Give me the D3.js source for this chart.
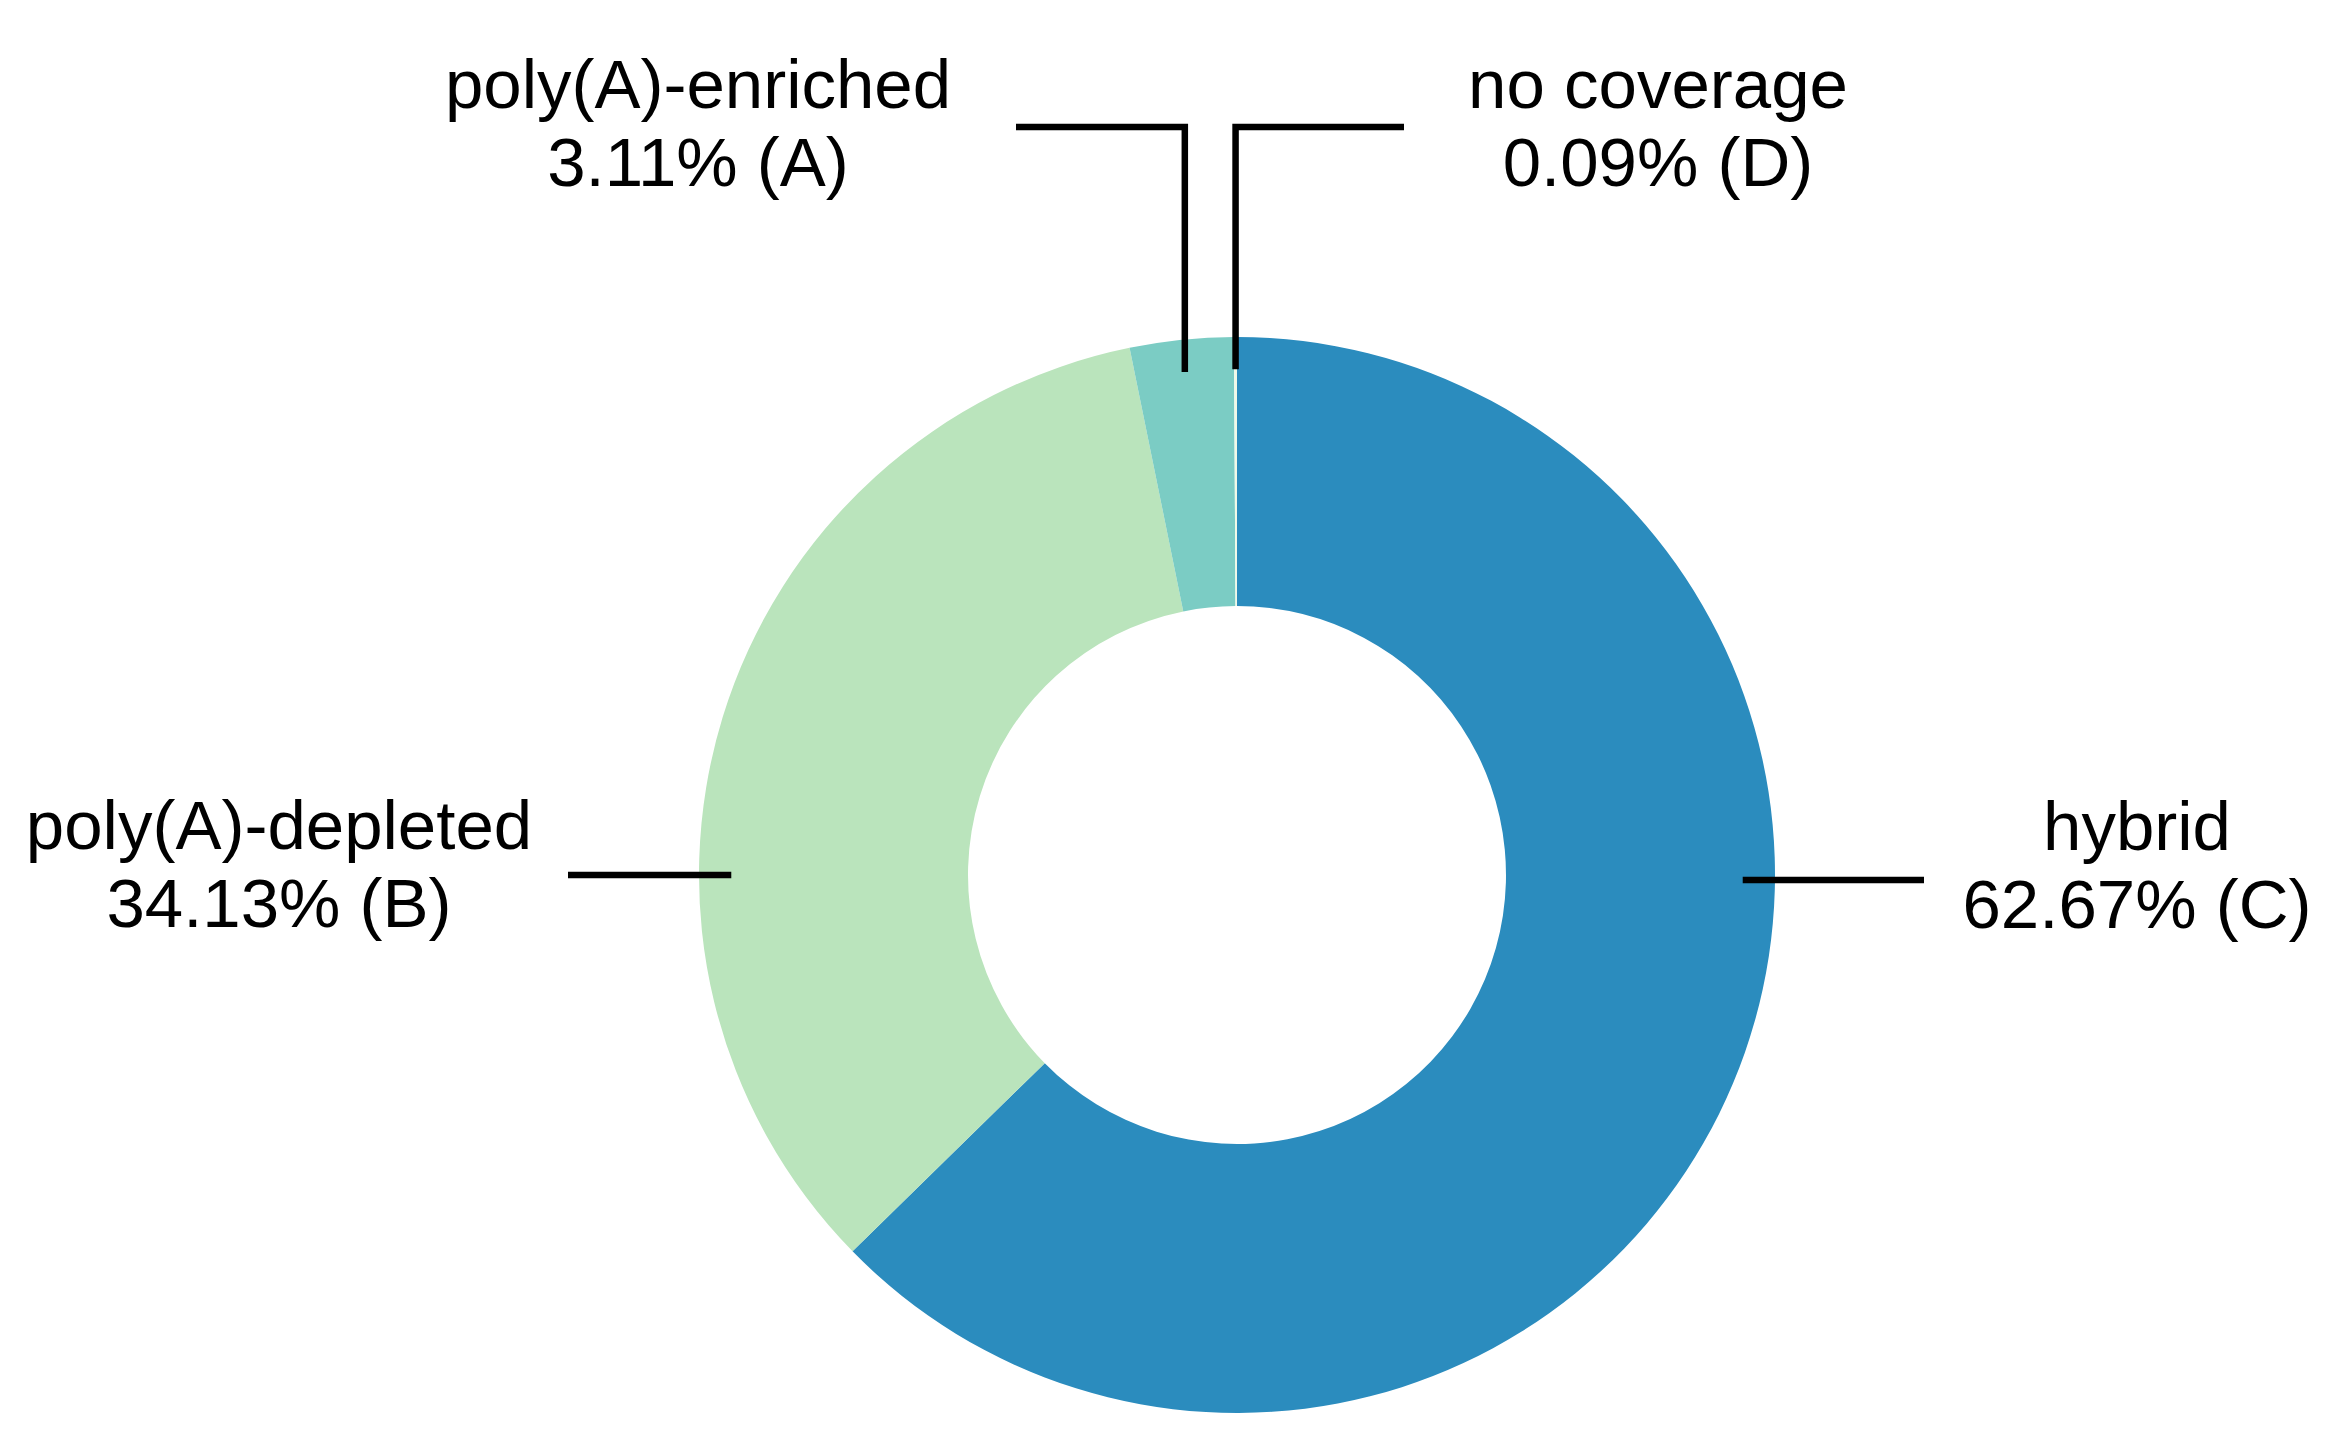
<!DOCTYPE html>
<html>
<head>
<meta charset="utf-8">
<script src="https://cdn.jsdelivr.net/npm/d3@7"></script>
<style>
  body { margin: 0; background: #fff; }
  text { font-family: "Liberation Sans", Arial, sans-serif; fill: #000; }
</style>
</head>
<body>
<div id="chart"></div>
<script>
// slices, clockwise from 12 o'clock
const categories = ["hybrid", "poly(A)-depleted", "poly(A)-enriched", "no coverage"];
const values = [62.67, 34.13, 3.11, 0.09];
const letters = ["C", "B", "A", "D"];
const colors = ["#2b8cbe", "#bae4bc", "#7bccc4", "#f0f9e8"];

const width = 2343,
  height = 1441,
  cx = 1237,
  cy = 875,
  outerR = 538,
  innerR = 269,
  leadR = outerR * 0.94,
  fontSize = 69,
  lineGap = 78;

// how each label is wired to its slice
const layout = [
  { side: "right", lineTo: 1924, tx: 2137, ty: 850 },
  { side: "left", lineTo: 568, tx: 279, ty: 849 },
  { side: "top", elbowY: 127, lineTo: 1016, tx: 698, ty: 108 },
  { side: "top", elbowY: 127, lineTo: 1404, tx: 1658, ty: 108 }
];

const svg = d3.select("#chart")
  .append("svg")
  .attr("width", width)
  .attr("height", height)
  .attr("viewBox", [0, 0, width, height]);

const data = categories.map((c, i) => ({ name: c, value: values[i], letter: letters[i], color: colors[i], lay: layout[i] }));

const pie = d3.pie()
  .sort(null)
  .value(d => d.value);

const arc = d3.arc()
  .innerRadius(innerR)
  .outerRadius(outerR);

const arcs = pie(data);

const g = svg.append("g")
  .attr("transform", `translate(${cx},${cy})`);

g.selectAll("path")
  .data(arcs)
  .join("path")
  .attr("d", arc)
  .attr("fill", d => d.data.color);

function leader(d) {
  const lay = d.data.lay;
  if (lay.side === "right") {
    return [[cx + leadR, cy + 5], [lay.lineTo, cy + 5]];
  }
  if (lay.side === "left") {
    return [[cx - leadR, cy], [lay.lineTo, cy]];
  }
  const mid = (d.startAngle + d.endAngle) / 2;
  const x = cx + leadR * Math.sin(mid),
    y = cy - leadR * Math.cos(mid);
  return [[x, y], [x, lay.elbowY], [lay.lineTo, lay.elbowY]];
}

svg.append("g")
  .selectAll("path")
  .data(arcs)
  .join("path")
  .attr("d", d => d3.line()(leader(d)))
  .attr("fill", "none")
  .attr("stroke", "#000")
  .attr("stroke-width", 6.5);

const labels = svg.append("g")
  .selectAll("text")
  .data(arcs)
  .join("text")
  .attr("text-anchor", "middle")
  .attr("font-size", fontSize);

labels.append("tspan")
  .attr("x", d => d.data.lay.tx)
  .attr("y", d => d.data.lay.ty)
  .text(d => d.data.name);

labels.append("tspan")
  .attr("x", d => d.data.lay.tx)
  .attr("y", d => d.data.lay.ty + lineGap)
  .text(d => `${d.data.value.toFixed(2)}% (${d.data.letter})`);
</script>
</body>
</html>
